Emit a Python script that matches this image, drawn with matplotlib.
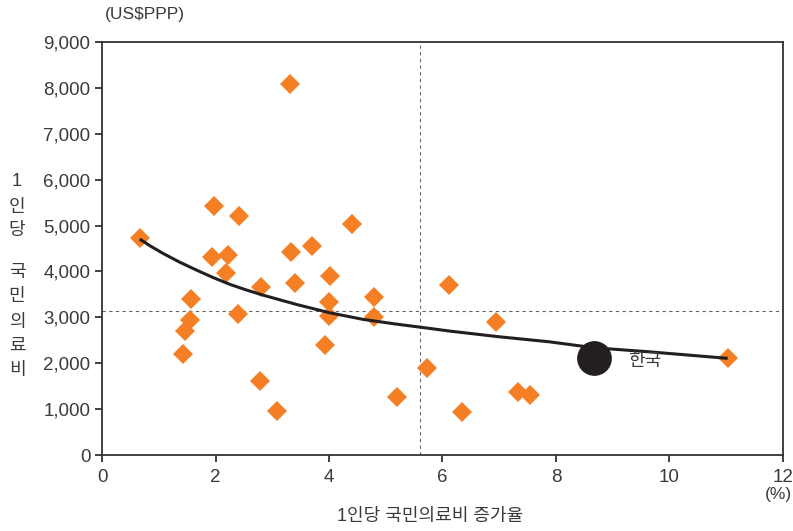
import matplotlib
matplotlib.use("Agg")
import matplotlib.pyplot as plt

plt.rcParams['font.family'] = ['Liberation Sans', 'Noto Sans CJK KR', 'DejaVu Sans']

# 국가별 1인당 국민의료비 증가율(%) vs 1인당 국민의료비(US$PPP)
growth = [0.66, 3.31, 1.97, 2.41, 4.41, 1.93, 2.22, 3.33, 3.70, 4.01,
          2.18, 3.40, 2.80, 6.12, 1.56, 3.99, 4.80, 2.39, 1.54, 3.99,
          4.79, 6.95, 1.45, 1.42, 3.92, 2.78, 3.08, 5.19, 5.73, 6.35,
          7.34, 7.55, 11.03]
spending = [4730, 8080, 5425, 5207, 5033, 4314, 4357, 4423, 4553, 3900,
            3965, 3747, 3660, 3704, 3399, 3333, 3442, 3072, 2941, 3028,
            3007, 2898, 2702, 2200, 2397, 1612, 959, 1264, 1895, 937,
            1373, 1307, 2107]

korea_x = [8.67]
korea_y = [2107]

# 추세선
trend_x = [0.66, 0.84, 1.07, 1.36, 1.66, 1.95, 2.25, 2.54, 2.83, 3.42,
           4.01, 4.60, 5.18, 5.77, 6.12, 7.00, 7.88, 8.67, 9.64, 11.03]
trend_y = [4706, 4560, 4394, 4205, 4031, 3870, 3719, 3597, 3486, 3283,
           3100, 2956, 2854, 2760, 2702, 2577, 2468, 2338, 2250, 2107]

avg_x = 5.6
avg_y = 3140

xticks = [0, 2, 4, 6, 8, 10, 12]
yticks = [0, 1000, 2000, 3000, 4000, 5000, 6000, 7000, 8000, 9000]

text_color = '#3a3a3a'
line_color = '#333333'

fig = plt.figure(figsize=(7.93, 5.31), dpi=100)
ax = fig.add_axes([0.129, 0.143, 0.858, 0.778])

ax.axvline(avg_x, color='#666666', lw=0.8, ls=(0, (3, 3)), zorder=1)
ax.axhline(avg_y, color='#666666', lw=0.8, ls=(0, (3, 3)), zorder=1)

ax.plot(growth, spending, ls='none', marker='D', ms=10, color='#f47f24',
        markeredgewidth=0, zorder=2)
ax.plot(trend_x, trend_y, color='#231f20', lw=2.2, zorder=3,
        solid_capstyle='butt', solid_joinstyle='round')
ax.plot(korea_x, korea_y, ls='none', marker='o', ms=24, color='#231f20',
        zorder=4)
ax.text(korea_x[0] + 0.6, korea_y[0] - 60, '한국', fontsize=13,
        color=text_color, va='center', ha='left')

ax.set_xlim(0, 12)
ax.set_ylim(0, 9000)
ax.set_xticks(xticks)
ax.set_yticks(yticks)
ax.set_xticklabels([str(v) for v in xticks])
ax.set_yticklabels([f'{v:,}' for v in yticks])
ax.tick_params(direction='out', length=5, width=1.3, colors=line_color,
               labelcolor=text_color, labelsize=13.5)
ax.tick_params(axis='x', pad=5)
for s in ax.spines.values():
    s.set_color(line_color)
    s.set_linewidth(1.3)

fig.text(0.132, 0.972, '(US$PPP)', fontsize=12.5, color=text_color,
         ha='left', va='center')
fig.text(0.982, 0.068, '(%)', fontsize=12.5, color=text_color,
         ha='center', va='center')
fig.text(0.542, 0.028, '1인당 국민의료비 증가율', fontsize=13,
         color=text_color, ha='center', va='center')

ylabel_chars = ['1', '인', '당', '국', '민', '의', '료', '비']
ylabel_pix = [182, 207, 231, 272, 297, 322, 346, 370]
for ch, py in zip(ylabel_chars, ylabel_pix):
    fig.text(17 / 793, 1 - py / 531, ch, fontsize=13, color=text_color,
             ha='center', va='center')

fig.savefig('out.png', dpi=100)
